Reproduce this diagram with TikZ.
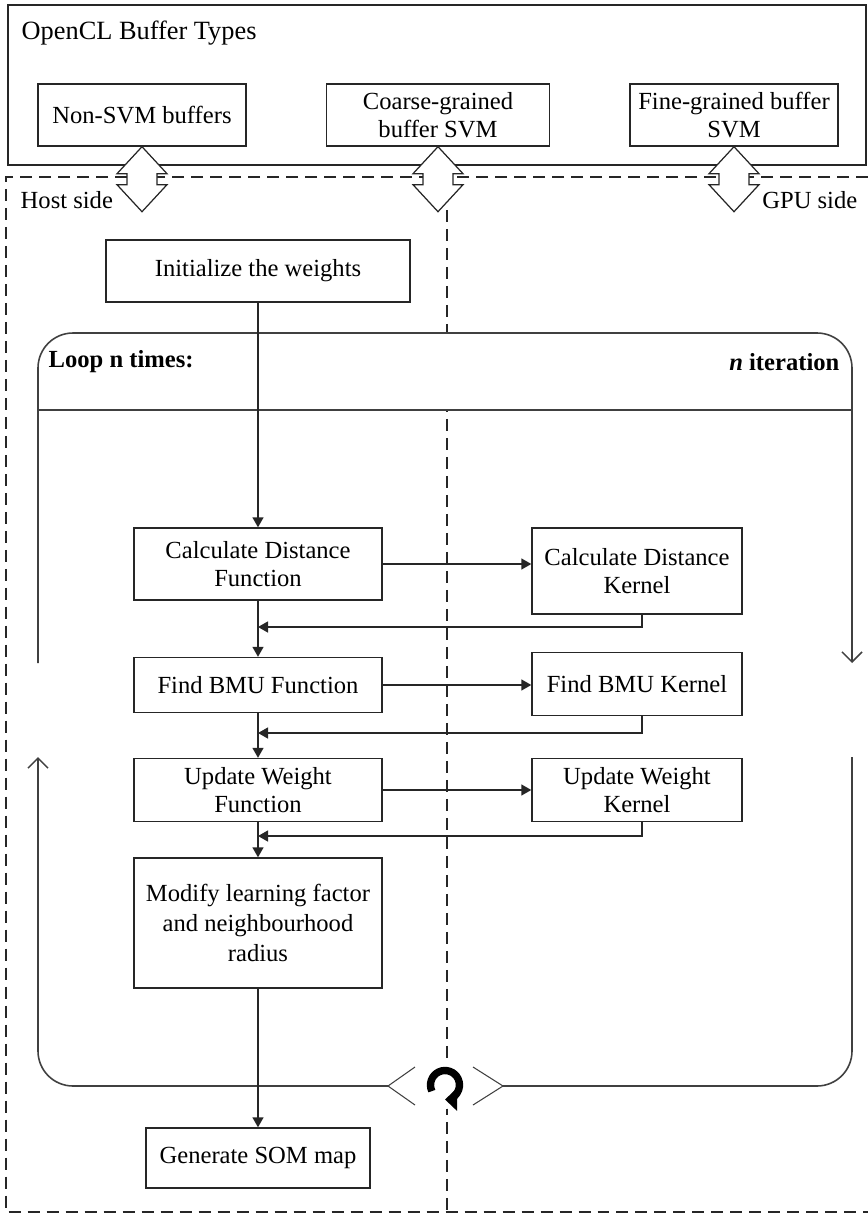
\documentclass[tikz,border=0pt]{standalone}
\usepackage{fontspec}
\setmainfont{Liberation Serif}
\usetikzlibrary{arrows.meta,calc}

\begin{document}
\begin{tikzpicture}[x=0.02cm, y=-0.02cm, line width=0.8pt,
        font=\fontsize{14}{16}\selectfont,
        buffer/.style=
            {
                rectangle,
                draw = black!85,
                align = center,
                inner sep = 2pt,
                minimum height = 1.24cm
            },
        hostbox/.style=
            {
                rectangle,
                draw = black!85,
                align = center,
                inner sep = 2pt,
                minimum width = 4.96cm
            },
        kernelbox/.style=
            {
                rectangle,
                draw = black!85,
                align = center,
                inner sep = 2pt,
                minimum width = 4.2cm
            },
        sidetext/.style=
            {
                inner sep = 0pt
            },
        flow/.style=
            {
                draw = black!85,
                -{Triangle[length=2mm,width=2.2mm]}
            },
        loopline/.style=
            {
                draw = black!75,
                line width = 0.9pt
            },
        loopflow/.style=
            {
                loopline,
                -{Straight Barb[length=2mm,width=4mm]}
            },
        region/.style=
            {
                draw = black!85,
                line width = 0.9pt,
                dash pattern = on 2.4mm off 1.4mm
            }
    ]

    \useasboundingbox (0,0) rectangle (868,1217);

    % buffer types
    \draw[draw=black!85] (8,5) rectangle (866,165);
    \node[sidetext, anchor=west, font=\fontsize{15}{17}\selectfont] (title) at (21,33) {OpenCL Buffer Types};
    \node[buffer, minimum width=4.16cm] (nonsvm) at (142,115) {Non-SVM buffers};
    \node[buffer, minimum width=4.46cm] (coarse) at (438,115) {Coarse-grained\\buffer SVM};
    \node[buffer, minimum width=4.16cm] (fine) at (734,115) {Fine-grained buffer\\SVM};

    % host and gpu regions
    \draw[region] (868,177) -- (6,177) -- (6,1212) -- (868,1212);
    \draw[region] (447,210) -- (447,1212);

    \foreach \b in {nonsvm,coarse,fine}
        \draw[fill=white, draw=black!85, line width=0.7pt] (\b.south) -- ++(25,27) -- ++(-10,0) -- ++(0,11)
            -- ++(10,0) -- ++(-25,27) -- ++(-25,-27) -- ++(10,0) -- ++(0,-11) -- ++(-10,0) -- cycle;

    \node[sidetext, anchor=west] (host) at (20,200) {Host side};
    \node[sidetext, anchor=east] (gpu) at (858,200) {GPU side};

    \node[hostbox, minimum width=6.08cm, minimum height=1.24cm] (init) at (258,271) {Initialize the weights};

    % loop frame
    \fill[white] (38,333) rectangle (852,410);
    \draw[loopline] (38,410) -- (852,410);
    \draw[loopflow, rounded corners=0.7cm] (38,663) -- (38,333) -- (852,333) -- (852,663);
    \draw[loopline, rounded corners=0.7cm] (852,757) -- (852,1086) -- (503,1086);
    \draw[loopflow, rounded corners=0.7cm] (388,1086) -- (38,1086) -- (38,757);
    \draw[loopline, line width=0.6pt] (415,1067) -- (388,1086) -- (415,1105);
    \draw[loopline, line width=0.6pt] (473,1067) -- (503,1086) -- (473,1105);
    \node[sidetext, anchor=west, font=\fontsize{14}{16}\selectfont\bfseries] (looptitle) at (48,362) {Loop n times:};
    \node[sidetext, anchor=east, font=\fontsize{14}{16}\selectfont\bfseries] (loopiter) at (840,362) {\textit{n} iteration};

    % host functions and kernels
    \node[hostbox, minimum height=1.44cm] (calcfun) at (258,564) {Calculate Distance\\Function};
    \node[kernelbox, minimum height=1.72cm] (calckern) at (637,571) {Calculate Distance\\Kernel};
    \node[hostbox, minimum height=1.1cm] (findfun) at (258,685) {Find BMU Function};
    \node[kernelbox, minimum height=1.26cm] (findkern) at (637,684) {Find BMU Kernel};
    \node[hostbox, minimum height=1.26cm] (updfun) at (258,790) {Update Weight\\Function};
    \node[kernelbox, minimum height=1.26cm] (updkern) at (637,790) {Update Weight\\Kernel};
    \node[hostbox, minimum height=2.6cm, font=\fontsize{14}{17}\selectfont] (modfun) at (258,923) {Modify learning factor\\and neighbourhood\\radius};
    \node[hostbox, minimum width=4.48cm, minimum height=1.2cm] (somgen) at (258,1158) {Generate SOM map};

    \coordinate (back1) at (258,627);
    \coordinate (back2) at (258,733);
    \coordinate (back3) at (258,836);

    \draw[flow] (init.south) -- (calcfun.north);
    \draw[flow] (calcfun.east) -- (calcfun.east -| calckern.west);
    \draw[flow] ([xshift=0.1cm]calckern.south) |- (back1);
    \draw[flow] (calcfun.south) -- (findfun.north);
    \draw[flow] (findfun.east) -- (findfun.east -| findkern.west);
    \draw[flow] ([xshift=0.1cm]findkern.south) |- (back2);
    \draw[flow] (findfun.south) -- (updfun.north);
    \draw[flow] (updfun.east) -- (updfun.east -| updkern.west);
    \draw[flow] ([xshift=0.1cm]updkern.south) |- (back3);
    \draw[flow] (updfun.south) -- (modfun.north);
    \draw[flow] (modfun.south) -- (somgen.north);

    % repeat symbol
    \coordinate (spin) at (445,1085);
    \fill[white] (spin) circle[radius=0.48cm];
    \begin{scope}[shift={(spin)}, x=1cm, y=1cm]
        \draw[line width=4.2pt, -{Triangle[length=0.24cm,width=0.44cm]}]
            (205:0.29cm) arc[start angle=205, end angle=-90, radius=0.29cm];
    \end{scope}

\end{tikzpicture}
\end{document}
